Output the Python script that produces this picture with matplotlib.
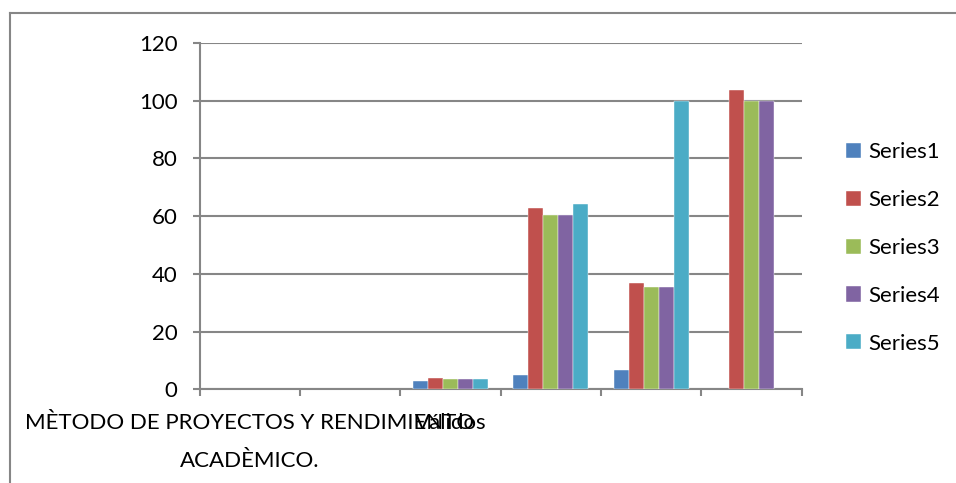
import matplotlib.pyplot as plt
import matplotlib.lines as mlines
import numpy as np

categories = ["MÈTODO DE PROYECTOS Y RENDIMIENTO\nACADÈMICO.", "", "Válidos", "", "", ""]
series_names = ["Series1", "Series2", "Series3", "Series4", "Series5"]
series1 = [np.nan, np.nan, 2.8, 5.0, 6.8, np.nan]
series2 = [np.nan, np.nan, 3.8, 62.9, 36.8, 103.8]
series3 = [np.nan, np.nan, 3.5, 60.5, 35.5, 100.0]
series4 = [np.nan, np.nan, 3.5, 60.5, 35.5, 100.0]
series5 = [np.nan, np.nan, 3.5, 64.3, 100.0, np.nan]
colors = ["#4F81BD", "#C0504D", "#9BBB59", "#8064A2", "#4BACC6"]

plt.rcParams['font.family'] = ['Lato', 'DejaVu Sans']
fig = plt.figure(figsize=(9.56, 4.83), dpi=100)
ax = fig.add_axes([0.2088, 0.194, 0.6298, 0.717])

x = np.arange(len(categories))
w = 0.15
for i, vals in enumerate([series1, series2, series3, series4, series5]):
	ax.bar(x + (i - 2) * w, vals, w, color=colors[i], label=series_names[i],
		edgecolor='white', linewidth=0.3, zorder=3)

ax.set_xlim(-0.5, 5.5)
ax.set_ylim(0, 120)
ax.set_yticks(range(0, 121, 20))
ax.yaxis.grid(True, color='#868686', linewidth=1.5, zorder=0)
ax.set_xticks(x)
ax.set_xticklabels(categories, fontsize=16, linespacing=2.1)
ax.set_xticks(np.arange(-0.5, 6, 1), minor=True)
ax.tick_params(axis='x', which='major', length=0, pad=17)
ax.tick_params(axis='x', which='minor', length=5, width=1.5, color='#868686')
ax.tick_params(axis='y', length=5, width=1.5, color='#868686', labelsize=16, pad=11)
for s in ['top', 'right']:
	ax.spines[s].set_visible(False)
for s in ['left', 'bottom']:
	ax.spines[s].set_color('#868686')
	ax.spines[s].set_linewidth(1.5)

fig.legend(loc='center left', bbox_to_anchor=(0.876, 0.4865), frameon=False,
	fontsize=16, handlelength=0.68, handleheight=0.68, handletextpad=0.3,
	labelspacing=1.25, borderaxespad=0)

fig.add_artist(mlines.Line2D([10/956, 10/956], [0, 1 - 13/483], color='#868686', linewidth=1.5))
fig.add_artist(mlines.Line2D([10/956, 1], [1 - 13/483, 1 - 13/483], color='#868686', linewidth=1.5))

fig.savefig('out.png', dpi=100)
